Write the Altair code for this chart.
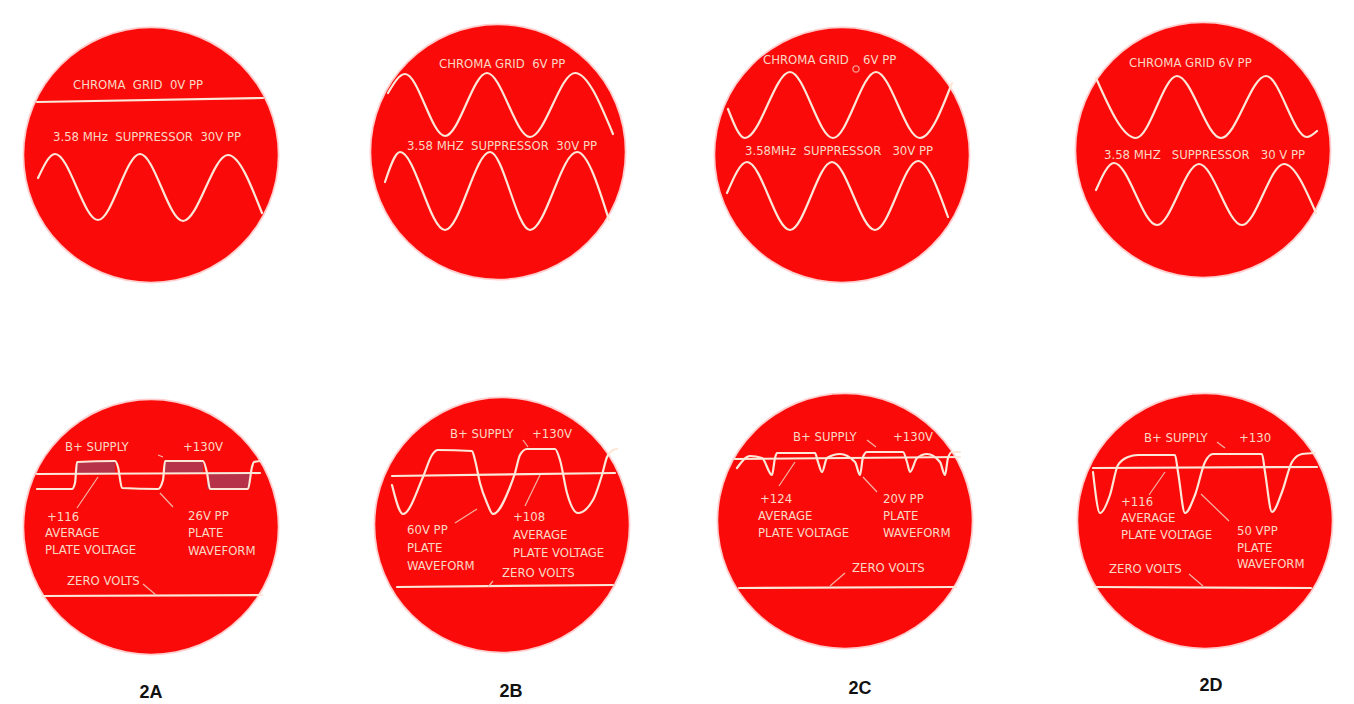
import altair as alt
import pandas as pd

# ---------------- screens (oscilloscope faces) ----------------
screen_cx = [151, 498, 842, 1203, 151, 502, 845, 1205]
screen_cy = [155, 152, 155, 150, 527, 525, 521, 521]

panel_labels = ["2A", "2B", "2C", "2D"]
panel_label_x = [151, 511, 860, 1211]
panel_label_y = [693, 692, 689, 686]

# ---------------- traces ----------------
# top row: chroma grid and 3.58 MHz suppressor sine waves
top_a_grid_x = [37, 263]
top_a_grid_y = [102, 98]
top_a_supp_x = [38, 55, 98, 140, 183, 228, 262]
top_a_supp_y = [178, 154, 220, 154, 221, 155, 213]

top_b_grid_x = [388, 405, 445, 487, 530, 575, 613]
top_b_grid_y = [93, 74, 136, 73, 137, 73, 134]
top_b_supp_x = [385, 400, 445, 490, 530, 577, 609]
top_b_supp_y = [182, 152, 230, 152, 230, 152, 220]

top_c_grid_x = [728, 745, 790, 833, 876, 920, 952]
top_c_grid_y = [109, 138, 72, 138, 72, 138, 83]
top_c_supp_x = [727, 747, 790, 832, 875, 918, 948]
top_c_supp_y = [193, 162, 230, 162, 230, 161, 217]

top_d_grid_x = [1096, 1136, 1177, 1221, 1266, 1307, 1317]
top_d_grid_y = [78, 138, 76, 138, 76, 137, 131]
top_d_supp_x = [1096, 1114, 1157, 1199, 1242, 1284, 1316]
top_d_supp_y = [190, 163, 225, 164, 225, 164, 213]

# bottom row: plate waveforms, average plate voltage lines, zero-volt lines
bot_a_plate_x = [37, 72, 75, 77, 115, 118, 122, 158, 163, 165, 203, 207, 210, 248, 252, 254, 260]
bot_a_plate_y = [489, 489, 483, 462, 461, 467, 488, 489, 480, 461, 461, 473, 489, 489, 467, 462, 461]
bot_a_avg_x = [37, 260]
bot_a_avg_y = [474, 473]
bot_a_zero_x = [42, 262]
bot_a_zero_y = [596, 595]

bot_b_plate_x = [392, 403, 423, 432, 438, 472, 475, 480, 487, 493, 510, 515, 520, 527, 555,
                 560, 567, 578, 593, 602, 607, 613, 617]
bot_b_plate_y = [485, 514, 477, 455, 450, 451, 460, 483, 503, 514, 487, 473, 455, 449, 449,
                 460, 493, 513, 500, 475, 457, 450, 449]
bot_b_avg_x = [392, 615]
bot_b_avg_y = [476, 473]
bot_b_zero_x = [397, 613]
bot_b_zero_y = [587, 585]

bot_c_plate_x = [737, 750, 762, 772, 775, 777, 815, 818, 822, 827, 840, 855, 860, 863, 867,
                 903, 907, 910, 917, 927, 940, 945, 948, 952, 960]
bot_c_plate_y = [468, 456, 458, 475, 458, 453, 453, 462, 472, 458, 454, 462, 475, 457, 452,
                 452, 462, 472, 458, 454, 462, 475, 458, 452, 452]
bot_c_avg_x = [735, 960]
bot_c_avg_y = [459, 457]
bot_c_zero_x = [739, 956]
bot_c_zero_y = [588, 587]

bot_d_plate_x = [1093, 1100, 1110, 1118, 1128, 1138, 1175, 1178, 1185, 1195, 1205, 1213,
                 1262, 1265, 1272, 1282, 1292, 1302, 1315]
bot_d_plate_y = [472, 513, 495, 465, 457, 455, 455, 472, 513, 495, 462, 454,
                 454, 472, 512, 492, 462, 454, 453]
bot_d_avg_x = [1093, 1317]
bot_d_avg_y = [468, 467]
bot_d_zero_x = [1094, 1311]
bot_d_zero_y = [587, 588]

traces = {
    "top_a_grid": (top_a_grid_x, top_a_grid_y),
    "top_a_supp": (top_a_supp_x, top_a_supp_y),
    "top_b_grid": (top_b_grid_x, top_b_grid_y),
    "top_b_supp": (top_b_supp_x, top_b_supp_y),
    "top_c_grid": (top_c_grid_x, top_c_grid_y),
    "top_c_supp": (top_c_supp_x, top_c_supp_y),
    "top_d_grid": (top_d_grid_x, top_d_grid_y),
    "top_d_supp": (top_d_supp_x, top_d_supp_y),
    "bot_a_plate": (bot_a_plate_x, bot_a_plate_y),
    "bot_a_avg": (bot_a_avg_x, bot_a_avg_y),
    "bot_a_zero": (bot_a_zero_x, bot_a_zero_y),
    "bot_b_plate": (bot_b_plate_x, bot_b_plate_y),
    "bot_b_avg": (bot_b_avg_x, bot_b_avg_y),
    "bot_b_zero": (bot_b_zero_x, bot_b_zero_y),
    "bot_c_plate": (bot_c_plate_x, bot_c_plate_y),
    "bot_c_avg": (bot_c_avg_x, bot_c_avg_y),
    "bot_c_zero": (bot_c_zero_x, bot_c_zero_y),
    "bot_d_plate": (bot_d_plate_x, bot_d_plate_y),
    "bot_d_avg": (bot_d_avg_x, bot_d_avg_y),
    "bot_d_zero": (bot_d_zero_x, bot_d_zero_y),
}

# pointer strokes (from label to trace)
ptr_x1 = [77, 173, 143, 158, 523, 455, 525, 493, 867, 779, 877, 845, 1217, 1149, 1229, 1189]
ptr_y1 = [508, 507, 584, 455, 440, 523, 506, 581, 440, 486, 492, 573, 442, 495, 521, 574]
ptr_x2 = [98, 160, 156, 163, 528, 477, 540, 488, 876, 795, 863, 830, 1225, 1165, 1201, 1203]
ptr_y2 = [477, 493, 595, 457, 447, 509, 475, 587, 447, 462, 477, 586, 448, 472, 494, 586]

# blurred retouch patches on the 2A plate waveform
patch_x1 = [77, 165, 207]
patch_x2 = [115, 203, 250]
patch_y1 = [461, 461, 472]
patch_y2 = [473, 473, 489]

# small spot on the 2C chroma screen
spot_x = [856]
spot_y = [69]

# screen legends
NB = "\u00a0"
text_str = [
    f"CHROMA{NB}{NB}GRID{NB}{NB}0V PP", f"3.58 MHz{NB}{NB}SUPPRESSOR{NB}{NB}30V PP",
    f"CHROMA GRID{NB}{NB}6V PP", f"3.58 MHZ{NB}{NB}SUPPRESSOR{NB}{NB}30V PP",
    "CHROMA GRID", "6V PP", f"3.58MHz{NB}{NB}SUPPRESSOR{NB}{NB}{NB}30V PP",
    "CHROMA GRID 6V PP", f"3.58 MHZ{NB}{NB}{NB}SUPPRESSOR{NB}{NB}{NB}30 V PP",
    "B+ SUPPLY", "+130V", "+116", "AVERAGE", "PLATE VOLTAGE", "26V PP", "PLATE", "WAVEFORM", "ZERO VOLTS",
    "B+ SUPPLY", "+130V", "60V PP", "PLATE", "WAVEFORM", "+108", "AVERAGE", "PLATE VOLTAGE", "ZERO VOLTS",
    "B+ SUPPLY", "+130V", "+124", "AVERAGE", "PLATE VOLTAGE", "20V PP", "PLATE", "WAVEFORM", "ZERO VOLTS",
    "B+ SUPPLY", "+130", "+116", "AVERAGE", "PLATE VOLTAGE", "50 VPP", "PLATE", "WAVEFORM", "ZERO VOLTS",
]
text_x = [
    73, 53,
    439, 407,
    763, 863, 745,
    1129, 1104,
    65, 183, 47, 45, 45, 188, 188, 188, 67,
    450, 532, 407, 407, 407, 513, 513, 513, 502,
    793, 893, 760, 758, 758, 883, 883, 883, 852,
    1144, 1239, 1121, 1121, 1121, 1237, 1237, 1237, 1109,
]
text_y = [
    85, 137,
    64, 146,
    60, 60, 151,
    63, 155,
    447, 447, 517, 533, 550, 516, 533, 551, 581,
    434, 434, 530, 548, 566, 517, 535, 553, 573,
    437, 437, 499, 516, 533, 499, 516, 533, 568,
    438, 438, 502, 518, 535, 531, 548, 564, 569,
]

# ---------------- tables ----------------
screens = pd.DataFrame({"x": screen_cx, "y": screen_cy})
labels = pd.DataFrame({"x": panel_label_x, "y": panel_label_y, "text": panel_labels})
rows = []
for name, (xs_, ys_) in traces.items():
    for i, (xv, yv) in enumerate(zip(xs_, ys_)):
        rows.append({"trace": name, "i": i, "x": xv, "y": yv})
trace_df = pd.DataFrame(rows)
ptr_df = pd.DataFrame({"x": ptr_x1, "y": ptr_y1, "x2": ptr_x2, "y2": ptr_y2})
patch_df = pd.DataFrame({"x": patch_x1, "x2": patch_x2, "y": patch_y1, "y2": patch_y2})
spot_df = pd.DataFrame({"x": spot_x, "y": spot_y})
text_df = pd.DataFrame({"x": text_x, "y": text_y, "text": text_str})

xs = alt.Scale(domain=[8, 1346], nice=False, zero=False)
ys = alt.Scale(domain=[8, 696], nice=False, zero=False, reverse=True)
X = alt.X("x:Q", scale=xs, axis=None)
Y = alt.Y("y:Q", scale=ys, axis=None)

RED = "#FA0B0A"
TRACE = "#FCE8D8"
INK = "#F9D8C4"
FONT = "Liberation Sans Narrow, DejaVu Sans Condensed, Roboto, sans-serif"

halo = alt.Chart(screens).mark_circle(size=66052, color="#FF6060", opacity=0.3).encode(x=X, y=Y)
face = alt.Chart(screens).mark_circle(size=64242, color=RED, opacity=1).encode(x=X, y=Y)

patches = alt.Chart(patch_df).mark_rect(color="#A83A55", opacity=0.85).encode(
    x=X, x2="x2:Q", y=Y, y2="y2:Q")

lines = alt.Chart(trace_df).mark_line(
    color=TRACE, strokeWidth=2.2, interpolate="monotone", strokeCap="round", strokeJoin="round"
).encode(x=X, y=Y, detail="trace:N", order="i:Q")

pointers = alt.Chart(ptr_df).mark_rule(color="#F2B4A4", strokeWidth=1.2).encode(
    x=X, y=Y, x2="x2:Q", y2="y2:Q")

spot = alt.Chart(spot_df).mark_point(shape="circle", size=40, color=INK, filled=False, strokeWidth=1.3).encode(x=X, y=Y)

texts = alt.Chart(text_df).mark_text(
    align="left", baseline="middle", color=INK, font=FONT, fontSize=13
).encode(x=X, y=Y, text="text:N")

panel_text = alt.Chart(labels).mark_text(
    align="center", baseline="middle", color="#111111", font="Liberation Sans, Arial, sans-serif",
    fontSize=18, fontWeight="bold"
).encode(x=X, y=Y, text="text:N")

chart = alt.layer(halo, face, patches, lines, pointers, spot, texts, panel_text).properties(
    width=1338, height=688, padding=0, background="white"
).configure_view(stroke=None)

chart.save("out.html", embed_options={"renderer": "svg", "actions": False})
